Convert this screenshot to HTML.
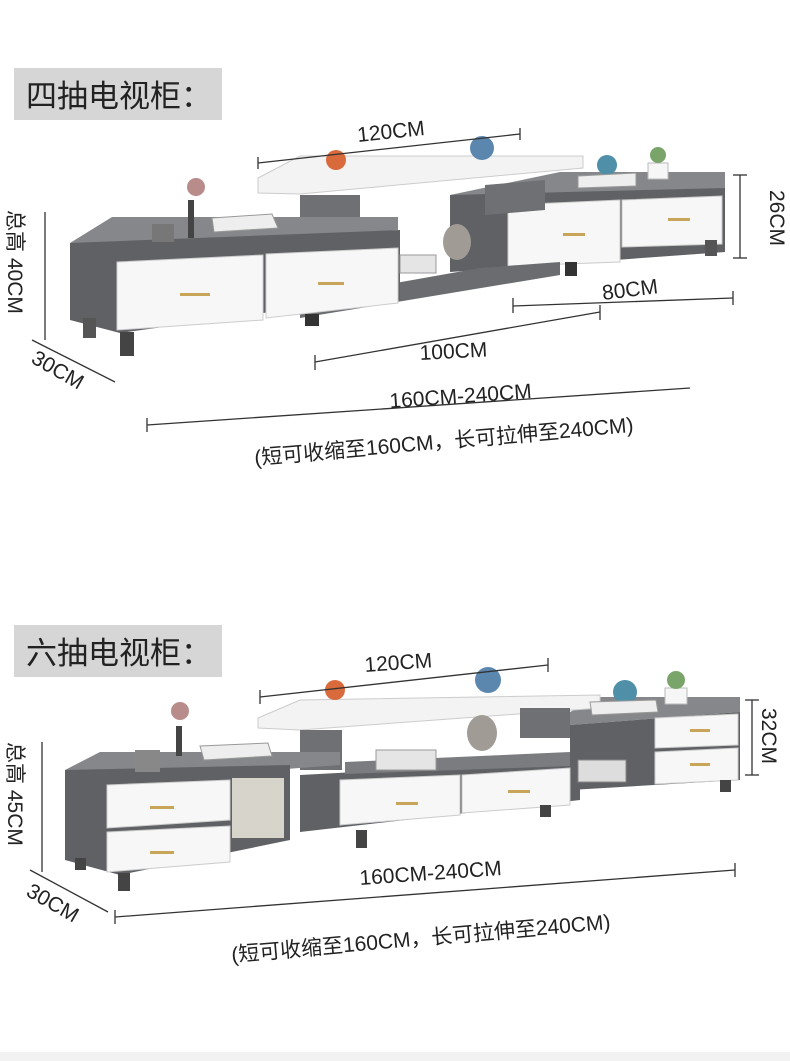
<!DOCTYPE html>
<html><head><meta charset="utf-8"><style>
body{margin:0;background:#fff;}
svg{display:block}
text{font-family:"Liberation Sans","Noto Sans CJK SC",sans-serif;fill:#222;}
</style></head><body>
<svg width="790" height="1061" viewBox="0 0 790 1061" xmlns="http://www.w3.org/2000/svg">
<rect width="790" height="1061" fill="#fff"/>
<rect x="0" y="1052" width="790" height="9" fill="#f2f2f2"/>
<!-- ===== TOP ===== -->
<rect x="14" y="68" width="208" height="52" fill="#d6d6d6"/>
<text x="26" y="107" font-size="31">四抽电视柜：</text>

<!-- right unit -->
<polygon points="450,195 560,172 725,172 725,188 450,212" fill="#85878b"/>
<polygon points="450,195 725,188 725,252 450,272" fill="#5f6165"/>
<polygon points="508,205 620,200 620,262 508,266" fill="#f7f7f7" stroke="#ccc"/>
<polygon points="622,200 722,196 722,244 622,247" fill="#f7f7f7" stroke="#ccc"/>
<rect x="563" y="233" width="22" height="3" fill="#c9a55a"/>
<rect x="668" y="218" width="22" height="3" fill="#c9a55a"/>
<rect x="565" y="262" width="12" height="14" fill="#333"/>
<rect x="705" y="240" width="12" height="16" fill="#555"/>
<!-- middle shelf + base -->
<polygon points="300,300 480,268 560,262 560,275 300,318" fill="#6a6c70"/>
<polygon points="300,195 360,195 360,228 300,228" fill="#6e7074"/>
<polygon points="485,185 545,180 545,210 485,215" fill="#6e7074"/>
<!-- top white shelf -->
<polygon points="258,178 300,156 583,156 583,168 300,194 258,193" fill="#f3f3f3" stroke="#ccc"/>
<!-- left unit -->
<polygon points="70,243 112,217 398,217 398,230 120,250" fill="#85878b"/>
<polygon points="70,243 400,230 400,300 320,305 120,333 70,320" fill="#5f6165"/>
<polygon points="117,262 263,255 263,320 117,330" fill="#f7f7f7" stroke="#ccc"/>
<polygon points="266,254 398,248 398,303 266,318" fill="#f7f7f7" stroke="#ccc"/>
<rect x="180" y="293" width="30" height="3" fill="#c9a55a"/>
<rect x="318" y="282" width="26" height="3" fill="#c9a55a"/>
<rect x="83" y="318" width="13" height="20" fill="#555"/>
<rect x="120" y="332" width="14" height="24" fill="#444"/>
<rect x="305" y="314" width="14" height="12" fill="#333"/>
<!-- decor -->
<rect x="152" y="224" width="22" height="18" fill="#777"/>
<rect x="188" y="200" width="6" height="38" fill="#444"/>
<circle cx="196" cy="187" r="9" fill="#b88c8a"/>
<polygon points="212,218 272,214 278,228 214,232" fill="#eee" stroke="#999"/>
<circle cx="336" cy="160" r="10" fill="#d86a3c"/>
<circle cx="482" cy="148" r="12" fill="#5b86ae"/>
<circle cx="607" cy="165" r="10" fill="#4f8fa8"/>
<polygon points="578,176 636,173 636,186 578,188" fill="#eee" stroke="#999"/>
<rect x="648" y="163" width="20" height="16" fill="#f6f6f6" stroke="#bbb"/>
<circle cx="658" cy="155" r="8" fill="#7aa56a"/>
<ellipse cx="457" cy="242" rx="14" ry="18" fill="#a09b94"/>
<rect x="400" y="255" width="36" height="18" fill="#e5e5e5" stroke="#999"/>

<!-- dims top -->
<g stroke="#333" stroke-width="1.3" fill="none">
<line x1="258" y1="163" x2="520" y2="134"/><line x1="258" y1="157" x2="258" y2="169"/><line x1="520" y1="128" x2="520" y2="140"/>
<line x1="740" y1="175" x2="740" y2="258"/><line x1="733" y1="175" x2="747" y2="175"/><line x1="733" y1="258" x2="747" y2="258"/>
<line x1="45" y1="212" x2="45" y2="340"/>
<line x1="513" y1="306" x2="733" y2="298"/><line x1="513" y1="298" x2="513" y2="313"/><line x1="733" y1="291" x2="733" y2="305"/>
<line x1="315" y1="362" x2="600" y2="312"/><line x1="315" y1="355" x2="315" y2="370"/><line x1="600" y1="305" x2="600" y2="320"/>
<line x1="147" y1="425" x2="690" y2="388"/><line x1="147" y1="418" x2="147" y2="432"/>
<line x1="32" y1="340" x2="115" y2="382"/>
</g>
<text x="358" y="142" font-size="21" transform="rotate(-6 358 142)">120CM</text>
<text x="770" y="190" font-size="21" transform="rotate(90 770 190)">26CM</text>
<text x="8" y="210" font-size="21" transform="rotate(90 8 210)">总高 40CM</text>
<text x="603" y="300" font-size="21" transform="rotate(-7 603 300)">80CM</text>
<text x="420" y="360" font-size="21" transform="rotate(-3 420 360)">100CM</text>
<text x="390" y="408" font-size="21" transform="rotate(-4 390 408)">160CM-240CM</text>
<text x="255" y="465" font-size="21" transform="rotate(-5 255 465)">(短可收缩至160CM，长可拉伸至240CM)</text>
<text x="30" y="362" font-size="21" transform="rotate(30 30 362)">30CM</text>

<!-- ===== BOTTOM ===== -->
<rect x="14" y="625" width="208" height="52" fill="#d6d6d6"/>
<text x="26" y="664" font-size="31">六抽电视柜：</text>

<!-- right unit -->
<polygon points="570,712 600,697 740,697 740,712 570,725" fill="#85878b"/>
<polygon points="570,725 740,712 740,780 570,790" fill="#5f6165"/>
<polygon points="655,718 738,714 738,745 655,748" fill="#f7f7f7" stroke="#ccc"/>
<polygon points="655,752 738,748 738,780 655,784" fill="#f7f7f7" stroke="#ccc"/>
<rect x="690" y="729" width="20" height="3" fill="#c9a55a"/>
<rect x="690" y="763" width="20" height="3" fill="#c9a55a"/>
<rect x="720" y="780" width="11" height="12" fill="#444"/>
<!-- middle -->
<polygon points="300,775 580,760 580,800 300,832" fill="#5f6165"/>
<polygon points="340,780 460,775 460,815 340,825" fill="#f7f7f7" stroke="#ccc"/>
<polygon points="462,775 570,768 570,805 462,813" fill="#f7f7f7" stroke="#ccc"/>
<rect x="396" y="802" width="22" height="3" fill="#c9a55a"/>
<rect x="508" y="790" width="22" height="3" fill="#c9a55a"/>
<rect x="356" y="830" width="11" height="18" fill="#444"/>
<rect x="540" y="805" width="11" height="12" fill="#444"/>
<polygon points="345,762 570,752 570,766 345,774" fill="#7a7c80"/>
<!-- top shelf -->
<polygon points="258,718 300,700 600,695 600,708 300,730 258,728" fill="#f3f3f3" stroke="#ccc"/>
<rect x="300" y="730" width="42" height="40" fill="#6e7074"/>
<rect x="520" y="708" width="50" height="30" fill="#6e7074"/>
<!-- left unit -->
<polygon points="65,770 100,752 340,752 340,765 110,782" fill="#85878b"/>
<polygon points="65,770 290,765 290,840 120,875 65,860" fill="#5f6165"/>
<polygon points="107,785 230,780 230,820 107,828" fill="#f7f7f7" stroke="#ccc"/>
<polygon points="107,832 230,826 230,862 107,872" fill="#f7f7f7" stroke="#ccc"/>
<rect x="150" y="806" width="24" height="3" fill="#c9a55a"/>
<rect x="150" y="851" width="24" height="3" fill="#c9a55a"/>
<rect x="232" y="778" width="52" height="60" fill="#d7d4cc"/>
<rect x="75" y="858" width="11" height="12" fill="#444"/>
<rect x="118" y="873" width="12" height="18" fill="#444"/>
<!-- decor -->
<rect x="135" y="750" width="25" height="22" fill="#888"/>
<rect x="176" y="726" width="6" height="30" fill="#444"/>
<circle cx="180" cy="711" r="9" fill="#b88c8a"/>
<polygon points="200,746 268,743 272,756 204,760" fill="#eee" stroke="#999"/>
<circle cx="335" cy="690" r="10" fill="#d86a3c"/>
<circle cx="488" cy="680" r="13" fill="#5b86ae"/>
<ellipse cx="482" cy="733" rx="15" ry="18" fill="#a09b94"/>
<rect x="376" y="750" width="60" height="20" fill="#e5e5e5" stroke="#999"/>
<circle cx="625" cy="692" r="12" fill="#4f8fa8"/>
<polygon points="590,702 656,700 658,712 592,715" fill="#eee" stroke="#999"/>
<rect x="665" y="688" width="22" height="16" fill="#f6f6f6" stroke="#bbb"/>
<circle cx="676" cy="680" r="9" fill="#7aa56a"/>
<rect x="578" y="760" width="48" height="22" fill="#ddd" stroke="#888"/>

<!-- dims bottom -->
<g stroke="#333" stroke-width="1.3" fill="none">
<line x1="260" y1="697" x2="548" y2="665"/><line x1="260" y1="690" x2="260" y2="704"/><line x1="548" y1="658" x2="548" y2="672"/>
<line x1="752" y1="700" x2="752" y2="775"/><line x1="745" y1="700" x2="759" y2="700"/><line x1="745" y1="775" x2="759" y2="775"/>
<line x1="42" y1="742" x2="42" y2="872"/>
<line x1="115" y1="917" x2="735" y2="870"/><line x1="115" y1="910" x2="115" y2="924"/><line x1="735" y1="863" x2="735" y2="877"/>
<line x1="30" y1="870" x2="108" y2="912"/>
</g>
<text x="365" y="672" font-size="21" transform="rotate(-4 365 672)">120CM</text>
<text x="762" y="708" font-size="21" transform="rotate(90 762 708)">32CM</text>
<text x="8" y="742" font-size="21" transform="rotate(90 8 742)">总高 45CM</text>
<text x="360" y="885" font-size="21" transform="rotate(-4 360 885)">160CM-240CM</text>
<text x="232" y="962" font-size="21" transform="rotate(-5 232 962)">(短可收缩至160CM，长可拉伸至240CM)</text>
<text x="25" y="895" font-size="21" transform="rotate(30 25 895)">30CM</text>
</svg>
</body></html>
